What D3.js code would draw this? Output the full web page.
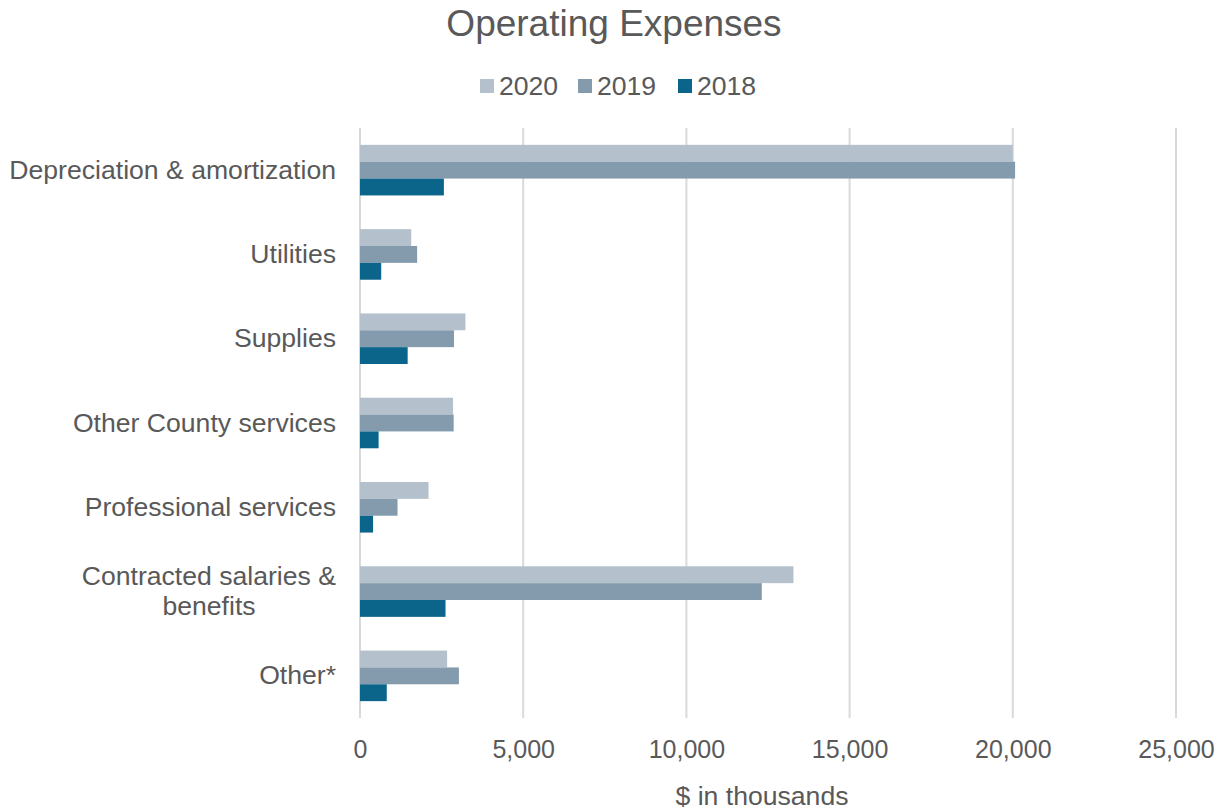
<!DOCTYPE html>
<html>
<head>
<meta charset="utf-8">
<script src="https://cdn.jsdelivr.net/npm/d3@7"></script>
<style>
  body { margin: 0; background: #fff; }
  text { font-family: 'Liberation Sans', Arial, sans-serif; fill: #595959; }
</style>
</head>
<body>
<div id="chart"></div>
<script>
const categories = [
  'Depreciation & amortization',
  'Utilities',
  'Supplies',
  'Other County services',
  'Professional services',
  'Contracted salaries & benefits',
  'Other*'
];
const seriesNames = ['2020', '2019', '2018'];
const values2020 = [20000, 1570, 3230, 2850, 2100, 13280, 2670];
const values2019 = [20070, 1750, 2880, 2870, 1150, 12310, 3030];
const values2018 = [2570, 650, 1460, 570, 400, 2620, 820];
const xTicks = [0, 5000, 10000, 15000, 20000, 25000];
const colors = ['#B4C1CD', '#849BAE', '#0B6489'];

const W = 1228, H = 810;
const margin = { top: 128, right: 52, bottom: 92, left: 360 };
const w = W - margin.left - margin.right;
const h = H - margin.top - margin.bottom;
const font = "'Liberation Sans', Arial, sans-serif";

const svg = d3.select('#chart').append('svg')
  .attr('width', W).attr('height', H);

// Title
svg.append('text')
  .attr('x', 614).attr('y', 36)
  .attr('text-anchor', 'middle')
  .attr('font-size', '37px')
  .text('Operating Expenses');

// Legend
const legendX = [480, 578, 678];
const legend = svg.append('g');
seriesNames.forEach((name, i) => {
  legend.append('rect')
    .attr('x', legendX[i]).attr('y', 79)
    .attr('width', 14).attr('height', 14)
    .attr('fill', colors[i]);
  legend.append('text')
    .attr('x', legendX[i] + 19).attr('y', 95)
    .attr('font-size', '26.6px')
    .text(name);
});

const g = svg.append('g').attr('transform', `translate(${margin.left},${margin.top})`);

const x = d3.scaleLinear().domain([0, 25000]).range([0, w]);
const y = d3.scaleBand().domain(categories).range([0, h]).paddingInner(0.4).paddingOuter(0.2);
const ySub = d3.scaleBand().domain(seriesNames).range([0, y.bandwidth()]);

// Grid lines
g.append('g')
  .selectAll('line')
  .data(xTicks)
  .enter().append('line')
  .attr('x1', d => x(d)).attr('x2', d => x(d))
  .attr('y1', 0).attr('y2', h)
  .attr('stroke', '#D9D9D9').attr('stroke-width', 2);

// Bars
const seriesValues = [values2020, values2019, values2018];
seriesNames.forEach((name, si) => {
  g.append('g')
    .selectAll('rect')
    .data(categories)
    .enter().append('rect')
    .attr('x', x(0))
    .attr('y', c => y(c) + ySub(name))
    .attr('width', (c, ci) => x(seriesValues[si][ci]) - x(0))
    .attr('height', ySub.bandwidth())
    .attr('fill', colors[si]);
});

// X axis
const xAxis = g.append('g')
  .attr('transform', `translate(0,${h})`)
  .call(d3.axisBottom(x).tickValues(xTicks).tickFormat(d3.format(',')).tickSize(0).tickPadding(22));
xAxis.select('.domain').remove();
xAxis.selectAll('text')
  .attr('font-size', '25px')
  .attr('font-family', font)
  .attr('fill', '#595959');

// Y axis
const yAxis = g.append('g')
  .call(d3.axisLeft(y).tickSize(0).tickPadding(24));
yAxis.select('.domain').remove();
yAxis.selectAll('text')
  .attr('font-size', '26.6px')
  .attr('font-family', font)
  .attr('fill', '#595959')
  .each(function(d) {
    if (d === 'Contracted salaries & benefits') {
      const t = d3.select(this);
      t.text(null);
      t.append('tspan').attr('x', -24).attr('dy', '-0.25em').text('Contracted salaries &');
      t.append('tspan').attr('x', -151).attr('dy', '1.12em').attr('text-anchor', 'middle').text('benefits');
    }
  });

// X axis title
svg.append('text')
  .attr('x', margin.left + w / 2 - 6).attr('y', 805)
  .attr('text-anchor', 'middle')
  .attr('font-size', '26.6px')
  .text('$ in thousands');
</script>
</body>
</html>
